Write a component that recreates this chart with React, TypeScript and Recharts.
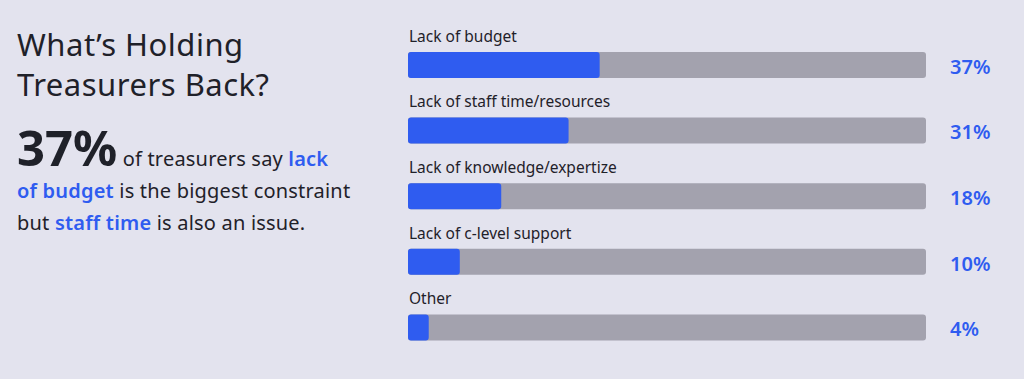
import { BarChart, Bar, XAxis, YAxis } from 'recharts'

const categories = [
  'Lack of budget',
  'Lack of staff time/resources',
  'Lack of knowledge/expertize',
  'Lack of c-level support',
  'Other',
]
const shares = [37, 31, 18, 10, 4]

const BG = '#e3e3ee'
const TRACK = '#a3a2ae'
const BLUE = '#2f5cf0'
const INK = '#1f2129'
const FONT = '"Noto Sans", sans-serif'

const data = categories.map((name, i) => ({ name, value: shares[i] }))
const shareOf: Record<string, number> = {}
categories.forEach((c, i) => (shareOf[c] = shares[i]))

function NameTick(props: any) {
  const { x, y, payload } = props
  return (
    <text x={x + 1} y={y - 23} fill={INK} fontSize={15.5} fontFamily={FONT} textAnchor="start">
      {payload.value}
    </text>
  )
}

function PctTick(props: any) {
  const { x, y, payload } = props
  return (
    <text x={x} y={y + 9} fill={BLUE} fontSize={20} fontWeight={600} fontFamily={FONT} textAnchor="start">
      {shareOf[payload.value]}%
    </text>
  )
}

export default function App() {
  const blue = { color: BLUE, fontWeight: 600 }
  return (
    <div style={{ position: 'absolute', left: 0, top: 0, width: 1024, height: 379, background: BG, overflow: 'hidden' }}>
      <div style={{ position: 'absolute', left: 17, top: 24, fontFamily: FONT, color: INK }}>
        <div style={{ fontSize: 31, lineHeight: '40px', fontWeight: 400, letterSpacing: 0.5 }}>
          What’s Holding
          <br />
          Treasurers Back?
        </div>
        <div style={{ fontSize: 20, lineHeight: '32px', marginTop: 24, letterSpacing: 0.2 }}>
          <span style={{ fontSize: 49, fontWeight: 700, lineHeight: '38px', letterSpacing: 0 }}>37%</span> of treasurers say{' '}
          <span style={blue}>lack</span>
          <br />
          <span style={blue}>of budget</span> is the biggest constraint
          <br />
          but <span style={blue}>staff time</span> is also an issue.
        </div>
      </div>
      <div style={{ position: 'absolute', left: 0, top: 0 }}>
        <BarChart
          width={1024}
          height={379}
          data={data}
          layout="vertical"
          margin={{ top: 32, right: 97, bottom: 19, left: 407 }}
        >
          <XAxis type="number" domain={[0, 100]} hide />
          <YAxis
            yAxisId="left"
            type="category"
            dataKey="name"
            width={1}
            axisLine={false}
            tickLine={false}
            tickSize={0}
            tickMargin={0}
            tick={<NameTick />}
            interval={0}
          />
          <YAxis
            yAxisId="right"
            orientation="right"
            type="category"
            dataKey="name"
            width={1}
            axisLine={false}
            tickLine={false}
            tickSize={0}
            tickMargin={24}
            tick={<PctTick />}
            interval={0}
          />
          <Bar
            yAxisId="left"
            dataKey="value"
            fill={BLUE}
            barSize={26}
            radius={3}
            background={{ fill: TRACK, radius: 3 }}
            isAnimationActive={false}
          />
        </BarChart>
      </div>
    </div>
  )
}
